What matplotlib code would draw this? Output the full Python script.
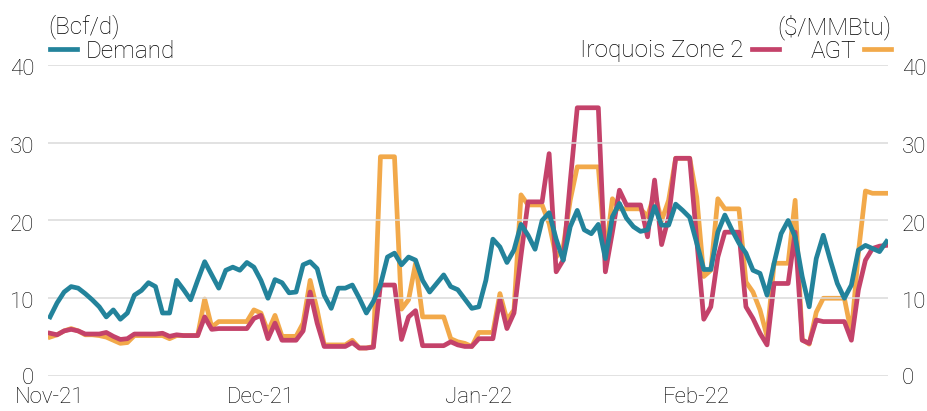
import numpy as np
import pandas as pd
import matplotlib
matplotlib.use("Agg")
import matplotlib.pyplot as plt
import matplotlib.dates as mdates
import matplotlib.transforms as mtransforms
from matplotlib.lines import Line2D

plt.rcParams["font.family"] = ["Roboto", "DejaVu Sans"]
plt.rcParams["font.weight"] = "light"

# daily data, 1 Nov 2021 .. 28 Feb 2022
dates = pd.date_range("2021-11-01", "2022-02-28", freq="D")

demand = [
    7.6, 9.4, 10.8, 11.5, 11.3, 10.6, 9.8, 8.9, 7.6, 8.5,
    7.3, 8.1, 10.4, 11.0, 12.0, 11.5, 8.1, 8.1, 12.3, 11.1,
    9.8, 12.3, 14.7, 13.0, 11.3, 13.6, 14.0, 13.6, 14.6, 14.0,
    12.3, 10.0, 12.4, 12.0, 10.7, 10.8, 14.3, 14.7, 13.8, 10.4,
    8.7, 11.3, 11.3, 11.7, 10.0, 8.1, 9.6, 11.7, 15.3, 15.8,
    14.3, 15.3, 14.9, 12.3, 10.8, 11.9, 13.0, 11.5, 11.1, 9.9,
    8.7, 8.9, 12.3, 17.6, 16.6, 14.6, 16.2, 19.5, 18.1, 16.3,
    20.0, 21.0, 17.6, 14.9, 19.2, 21.3, 18.8, 18.3, 19.5, 15.1,
    20.5, 22.2, 20.3, 19.2, 18.6, 18.8, 21.8, 19.4, 19.4, 22.1,
    21.3, 20.4, 17.1, 13.7, 13.7, 18.5, 20.7, 18.8, 17.1, 15.8,
    13.6, 13.2, 10.4, 14.5, 18.3, 20.0, 17.9, 12.8, 8.9, 15.1,
    18.1, 14.9, 11.9, 10.0, 11.7, 16.2, 16.8, 16.4, 16.0, 17.3,
]

iroquois = [
    5.5, 5.3, 5.8, 6.0, 5.8, 5.4, 5.4, 5.4, 5.6, 5.1,
    4.7, 4.8, 5.4, 5.4, 5.4, 5.4, 5.5, 5.1, 5.3, 5.2,
    5.2, 5.2, 7.6, 6.0, 6.1, 6.1, 6.1, 6.1, 6.1, 7.4,
    7.8, 4.8, 6.8, 4.6, 4.6, 4.6, 5.8, 10.8, 6.8, 3.8,
    3.8, 3.8, 3.8, 4.3, 3.6, 3.6, 3.7, 11.7, 11.7, 11.7,
    4.7, 7.6, 8.4, 3.9, 3.9, 3.9, 3.9, 4.4, 4.0, 3.8,
    3.8, 4.8, 4.8, 4.8, 9.8, 6.1, 8.1, 15.5, 22.4, 22.4,
    22.4, 28.6, 13.4, 14.9, 25.0, 34.5, 34.5, 34.5, 34.5, 13.4,
    18.5, 23.9, 22.0, 22.0, 22.0, 17.9, 25.2, 16.9, 20.4, 28.0,
    28.0, 28.0, 17.5, 7.3, 8.9, 15.3, 18.5, 18.5, 18.5, 8.9,
    7.4, 5.5, 4.0, 11.9, 11.9, 11.9, 18.5, 4.6, 4.2, 7.2,
    7.0, 7.0, 7.0, 7.0, 4.6, 11.1, 14.9, 16.4, 16.7, 16.8,
]

agt = [
    5.0, 5.3, 5.8, 6.1, 5.8, 5.3, 5.3, 5.2, 5.0, 4.6,
    4.2, 4.3, 5.2, 5.2, 5.2, 5.2, 5.2, 4.8, 5.2, 5.2,
    5.2, 5.2, 9.9, 6.3, 7.0, 7.0, 7.0, 7.0, 7.0, 8.5,
    8.1, 5.7, 7.8, 5.1, 5.1, 5.1, 6.8, 12.3, 8.5, 4.0,
    4.0, 4.0, 4.0, 4.6, 3.6, 3.6, 3.8, 28.2, 28.2, 28.2,
    8.6, 9.8, 14.5, 7.6, 7.6, 7.6, 7.6, 4.8, 4.4, 4.2,
    3.8, 5.6, 5.6, 5.6, 10.6, 7.2, 8.5, 23.3, 22.0, 22.0,
    22.0, 19.6, 15.3, 16.6, 22.6, 26.9, 26.9, 26.9, 26.9, 15.5,
    22.8, 21.5, 21.5, 21.5, 21.5, 20.5, 23.5, 20.0, 22.6, 28.0,
    28.0, 28.0, 23.0, 12.8, 13.6, 22.8, 21.5, 21.5, 21.5, 12.1,
    10.8, 8.5, 5.1, 14.5, 14.5, 14.5, 22.6, 4.7, 4.1, 8.2,
    10.0, 10.0, 10.0, 10.0, 5.5, 15.9, 23.8, 23.5, 23.5, 23.5,
]

TEAL = "#23839b"
CRIMSON = "#c4426a"
ORANGE = "#f2a94a"
GRID = "#dadada"
TXT = "#000000"
FS_TICK = 16
FS_TXT = 17.5
LW = 3.4

fig = plt.figure(figsize=(9.28, 4.11), dpi=100)
ax = fig.add_axes([48 / 928, 1 - 376 / 411, 840 / 928, 311 / 411])
ax2 = ax.twinx()

# prices on the right axis, demand drawn on top
ax2.plot(dates, agt, color=ORANGE, lw=LW, zorder=2)
ax2.plot(dates, iroquois, color=CRIMSON, lw=LW, zorder=3)
ax.set_zorder(ax2.get_zorder() + 1)
ax.patch.set_visible(False)
ax.plot(dates, demand, color=TEAL, lw=LW, zorder=4)

for a in (ax, ax2):
    a.set_ylim(0, 40)
    a.set_yticks([0, 10, 20, 30, 40])
    for s in a.spines.values():
        s.set_visible(False)
    a.tick_params(length=0, labelsize=FS_TICK, colors=TXT)
ax.tick_params(axis="y", pad=10)
ax2.tick_params(axis="y", pad=10)
ax.tick_params(axis="x", pad=8)
ax.grid(axis="y", color=GRID, lw=1.1)
ax.set_axisbelow(True)

ax.set_xlim(dates[0] - pd.Timedelta(hours=7), dates[-1] + pd.Timedelta(hours=5))
ax.xaxis.set_major_locator(mdates.MonthLocator())
ax.xaxis.set_major_formatter(mdates.DateFormatter("%b-%y"))

# y labels above zero sit a touch below their gridlines in the original
nudge = mtransforms.ScaledTranslation(0, -1.5 / 72, fig.dpi_scale_trans)
for lab in ax.get_yticklabels()[1:] + ax2.get_yticklabels()[1:]:
    lab.set_transform(lab.get_transform() + nudge)

# unit labels and legends
fig.text(48 / 928, 1 - 27 / 411, "(Bcf/d)", fontsize=FS_TXT, color=TXT,
         ha="left", va="center")
fig.text(891 / 928, 1 - 27 / 411, "($/MMBtu)", fontsize=FS_TXT, color=TXT,
         ha="right", va="center")

h_dem = Line2D([], [], color=TEAL, lw=LW)
h_iro = Line2D([], [], color=CRIMSON, lw=LW)
h_agt = Line2D([], [], color=ORANGE, lw=LW)
fig.legend([h_dem], ["Demand"], loc="center left",
           bbox_to_anchor=(50 / 928, 1 - 51 / 411), frameon=False,
           fontsize=FS_TXT, handlelength=1.1, handletextpad=0.35,
           borderaxespad=0, borderpad=0, labelcolor=TXT)
fig.legend([h_iro, h_agt], ["Iroquois Zone 2", "AGT"], loc="center right",
           bbox_to_anchor=(891 / 928, 1 - 51 / 411), frameon=False,
           fontsize=FS_TXT, ncol=2, markerfirst=False, handlelength=1.1,
           handletextpad=0.35, columnspacing=1.3, borderaxespad=0,
           borderpad=0, labelcolor=TXT)

fig.savefig("out.png", dpi=100)
